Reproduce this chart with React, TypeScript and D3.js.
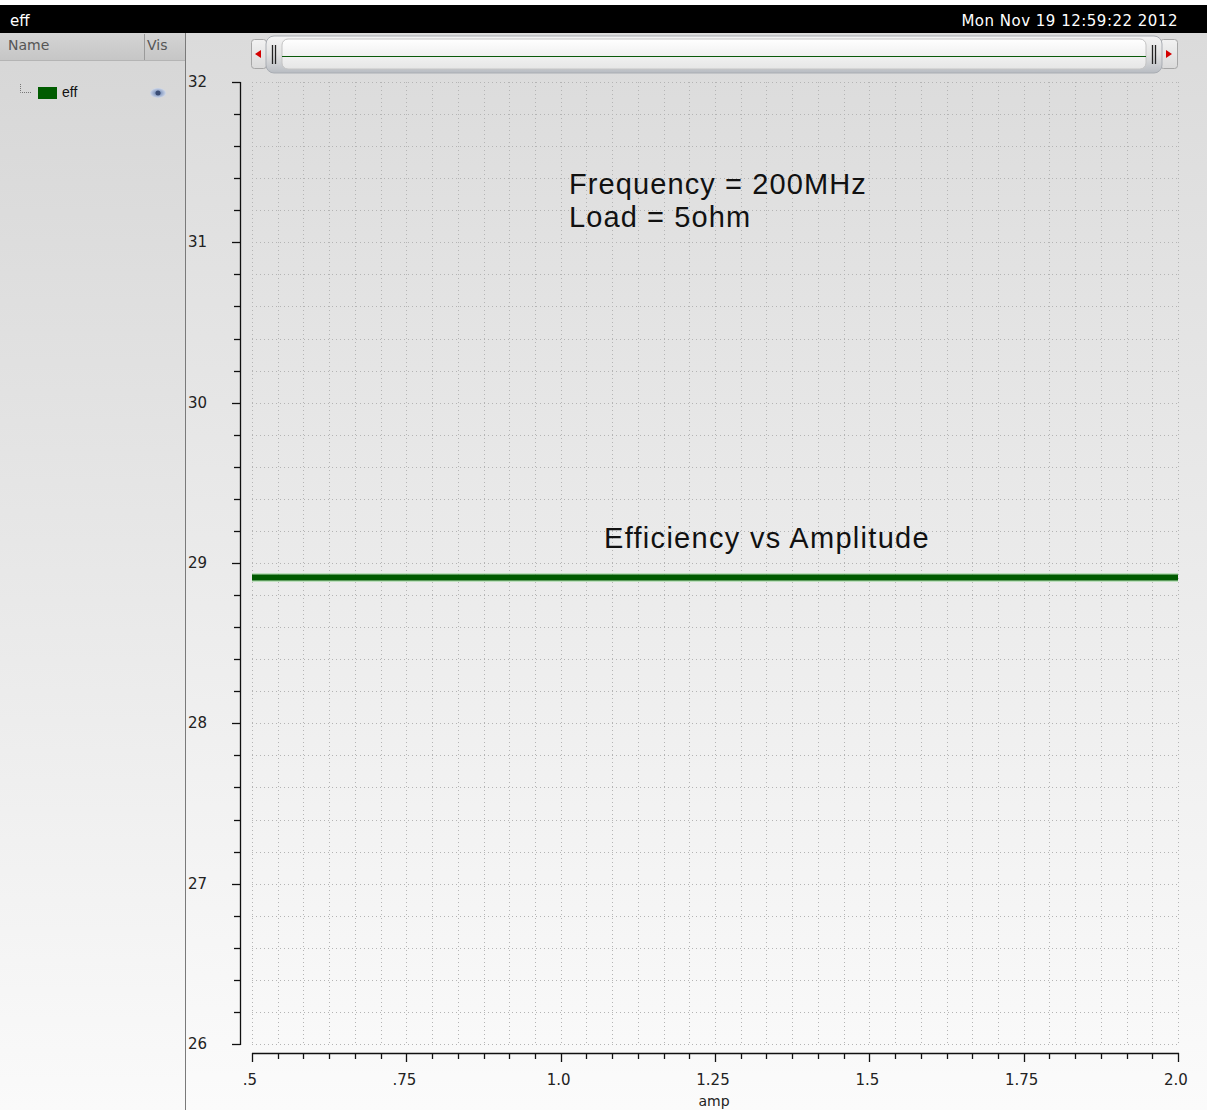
import React from "react";
import * as d3 from "d3";

const ampValues = [0.5, 0.75, 1.0, 1.25, 1.5, 1.75, 2.0];
const effValues = [28.91, 28.91, 28.91, 28.91, 28.91, 28.91, 28.91];
const xTickValues = [0.5, 0.75, 1.0, 1.25, 1.5, 1.75, 2.0];
const xTickLabels = [".5", ".75", "1.0", "1.25", "1.5", "1.75", "2.0"];
const yTickValues = [26, 27, 28, 29, 30, 31, 32];
const yTickLabels = ["26", "27", "28", "29", "30", "31", "32"];
const xMinorPerMajor = 6;
const yMinorPerMajor = 5;
const windowTitle = "eff";
const timestamp = "Mon Nov 19 12:59:22 2012";
const seriesName = "eff";
const annotation1 = ["Frequency = 200MHz", "Load = 5ohm"];
const seriesLabel = "Efficiency vs Amplitude";
const xAxisTitle = "amp";

const W = 1207;
const H = 1110;
const PL = 252, PR = 1178, PT = 82, PB = 1044;

export default function App() {
  const x = d3.scaleLinear().domain([0.5, 2.0]).range([PL, PR]);
  const y = d3.scaleLinear().domain([26, 32]).range([PB, PT]);

  const xMinor: number[] = [];
  for (let i = 0; i < xTickValues.length - 1; i++) {
    for (let j = 0; j < xMinorPerMajor; j++) {
      xMinor.push(xTickValues[i] + ((xTickValues[i + 1] - xTickValues[i]) * j) / xMinorPerMajor);
    }
  }
  xMinor.push(xTickValues[xTickValues.length - 1]);
  const yMinor: number[] = [];
  for (let i = 0; i < yTickValues.length - 1; i++) {
    for (let j = 0; j < yMinorPerMajor; j++) {
      yMinor.push(yTickValues[i] + ((yTickValues[i + 1] - yTickValues[i]) * j) / yMinorPerMajor);
    }
  }
  yMinor.push(yTickValues[yTickValues.length - 1]);

  const line = d3
    .line<number>()
    .x((_, i) => x(ampValues[i]))
    .y((d) => y(d));
  const path = line(effValues) || "";

  const tickFont = "'DejaVu Sans', sans-serif";
  const annFont = "'Liberation Sans', Arial, sans-serif";

  return (
    <div style={{ position: "absolute", left: 0, top: 0 }}>
      <svg width={W} height={H} style={{ display: "block" }}>
        <defs>
          <linearGradient id="plotBg" x1="0" y1="0" x2="0" y2="1">
            <stop offset="0" stopColor="#dbdbdb" />
            <stop offset="1" stopColor="#fbfbfb" />
          </linearGradient>
          <linearGradient id="panelBg" x1="0" y1="0" x2="0" y2="1">
            <stop offset="0" stopColor="#d6d6d6" />
            <stop offset="1" stopColor="#fafafa" />
          </linearGradient>
          <linearGradient id="hdrBg" x1="0" y1="0" x2="0" y2="1">
            <stop offset="0" stopColor="#d4d4d4" />
            <stop offset="1" stopColor="#c6c6c6" />
          </linearGradient>
          <linearGradient id="thumbBg" x1="0" y1="0" x2="0" y2="1">
            <stop offset="0" stopColor="#f4f4f4" />
            <stop offset="0.5" stopColor="#e2e2e2" />
            <stop offset="1" stopColor="#b8bcc2" />
          </linearGradient>
          <linearGradient id="innerBg" x1="0" y1="0" x2="0" y2="1">
            <stop offset="0" stopColor="#ffffff" />
            <stop offset="1" stopColor="#e6e6e6" />
          </linearGradient>
          <linearGradient id="btnBg" x1="0" y1="0" x2="0" y2="1">
            <stop offset="0" stopColor="#f2f2f2" />
            <stop offset="1" stopColor="#dadada" />
          </linearGradient>
          <radialGradient id="eyeBg" cx="0.5" cy="0.5" r="0.5">
            <stop offset="0" stopColor="#4a5f8a" />
            <stop offset="0.45" stopColor="#8fa3c8" />
            <stop offset="1" stopColor="#d0d8e8" />
          </radialGradient>
        </defs>

        <rect x={0} y={0} width={W} height={H} fill="#ffffff" />
        {/* plot background */}
        <rect x={186} y={33} width={W - 186} height={H - 33} fill="url(#plotBg)" />
        {/* left panel */}
        <rect x={0} y={33} width={185} height={H - 33} fill="url(#panelBg)" />
        <rect x={0} y={33} width={185} height={27} fill="url(#hdrBg)" />
        <line x1={0} y1={60.5} x2={185} y2={60.5} stroke="#b4b4b4" />
        <line x1={144.5} y1={34} x2={144.5} y2={60} stroke="#9a9a9a" />
        <line x1={185.5} y1={33} x2={185.5} y2={H} stroke="#7a7a7a" />
        <text x={8} y={50} fontFamily={tickFont} fontSize={14} fill="#555">Name</text>
        <text x={147} y={50} fontFamily={tickFont} fontSize={14} fill="#555">Vis</text>

        {/* legend item */}
        <path d="M20.5,84 V92.5 H32" fill="none" stroke="#777" strokeDasharray="1,1" />
        <rect x={38} y={87} width={19} height={12} fill="#005c00" />
        <text x={62} y={97} fontFamily={annFont} fontSize={14} fill="#111">{seriesName}</text>
        <ellipse cx={158} cy={93} rx={8} ry={5} fill="url(#eyeBg)" />
        <ellipse cx={158} cy={93} rx={2.5} ry={2.5} fill="#3b4d75" />

        {/* title bar */}
        <rect x={0} y={5} width={W} height={28} fill="#000" />
        <text x={10} y={26} fontFamily={tickFont} fontSize={15} fill="#fff">{windowTitle}</text>
        <text x={1178} y={26} textAnchor="end" fontFamily={tickFont} fontSize={15} letterSpacing={0.5} fill="#fff">{timestamp}</text>

        {/* slider */}
        <rect x={251.5} y={39.5} width={15} height={29} rx={3} fill="url(#btnBg)" stroke="#a6a6a6" />
        <path d="M255,54 L261,50 L261,58 Z" fill="#d40000" />
        <rect x={1160.5} y={39.5} width={17} height={29} rx={3} fill="url(#btnBg)" stroke="#a6a6a6" />
        <path d="M1172,54 L1166,50 L1166,58 Z" fill="#d40000" />
        <rect x={266} y={36} width={896} height={37} rx={8} fill="url(#thumbBg)" stroke="#a9adb3" />
        <rect x={282} y={39} width={864} height={30} rx={6} fill="url(#innerBg)" stroke="#c4c4c4" />
        <line x1={282} y1={56.5} x2={1146} y2={56.5} stroke="#0a5a0a" strokeWidth={1.2} />
        <line x1={272.5} y1={45} x2={272.5} y2={64} stroke="#222" strokeWidth={1.3} />
        <line x1={275.5} y1={45} x2={275.5} y2={64} stroke="#222" strokeWidth={1.3} />
        <line x1={1152.5} y1={45} x2={1152.5} y2={64} stroke="#222" strokeWidth={1.3} />
        <line x1={1155.5} y1={45} x2={1155.5} y2={64} stroke="#222" strokeWidth={1.3} />

        {/* grid */}
        <g stroke="#b4b4b4" strokeWidth={1} strokeDasharray="1,3">
          {xMinor.map((v, i) => (
            <line key={"gx" + i} x1={Math.round(x(v)) + 0.5} y1={PT} x2={Math.round(x(v)) + 0.5} y2={PB} />
          ))}
          {yMinor.map((v, i) => (
            <line key={"gy" + i} x1={PL} y1={Math.round(y(v)) + 0.5} x2={PR} y2={Math.round(y(v)) + 0.5} />
          ))}
        </g>

        {/* y axis */}
        <line x1={240.5} y1={PT} x2={240.5} y2={PB + 1} stroke="#111" strokeWidth={1.3} />
        {yMinor.map((v, i) => {
          const major = yTickValues.includes(+v.toFixed(6));
          return (
            <line key={"yt" + i} x1={major ? 232 : 234} y1={Math.round(y(v)) + 0.5} x2={240.5} y2={Math.round(y(v)) + 0.5} stroke="#111" strokeWidth={1.3} />
          );
        })}
        {yTickValues.map((v, i) => (
          <text key={"yl" + i} x={188} y={y(v) + 5} fontFamily={tickFont} fontSize={15} fill="#222">{yTickLabels[i]}</text>
        ))}

        {/* x axis */}
        <line x1={PL} y1={1053.5} x2={PR + 1} y2={1053.5} stroke="#111" strokeWidth={1.3} />
        {xMinor.map((v, i) => {
          const major = xTickValues.some((t) => Math.abs(t - v) < 1e-6);
          return (
            <line key={"xt" + i} x1={Math.round(x(v)) + 0.5} y1={1053} x2={Math.round(x(v)) + 0.5} y2={major ? 1062 : 1059} stroke="#111" strokeWidth={1.3} />
          );
        })}
        {xTickValues.map((v, i) => (
          <text key={"xl" + i} x={x(v) - 2} y={1085} textAnchor="middle" fontFamily={tickFont} fontSize={15} fill="#222">{xTickLabels[i]}</text>
        ))}
        <text x={714} y={1106} textAnchor="middle" fontFamily={tickFont} fontSize={14} fill="#222">{xAxisTitle}</text>

        {/* series */}
        <path d={path} fill="none" stroke="#9fd79f" strokeOpacity={0.6} strokeWidth={9} />
        <path d={path} fill="none" stroke="#005a00" strokeWidth={6} />

        {/* annotations */}
        <text fontFamily={annFont} fontSize={29} letterSpacing={1.1} fill="#111">
          {annotation1.map((t, i) => (
            <tspan key={i} x={569} y={194 + i * 33}>{t}</tspan>
          ))}
        </text>
        <text x={604} y={548} fontFamily={annFont} fontSize={29} letterSpacing={1.3} fill="#111">{seriesLabel}</text>
      </svg>
    </div>
  );
}
